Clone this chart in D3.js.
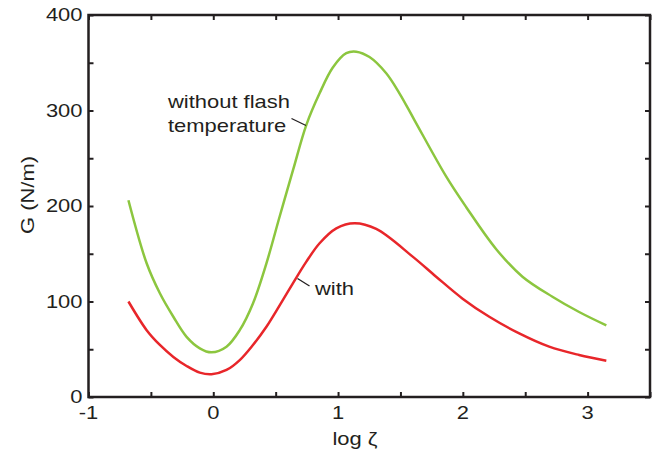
<!DOCTYPE html>
<html><head><meta charset="utf-8">
<script src="https://cdn.jsdelivr.net/npm/d3@7/dist/d3.min.js"></script>
<style>body{margin:0;background:#fff}svg{display:block}text{font-family:"Liberation Sans",Arial,sans-serif;fill:#231f20}</style>
</head><body><svg id="c" width="661" height="452"></svg>
<script>
const logZeta = [-0.68,-0.534,-0.428,-0.32,-0.214,-0.108,-0.014,0.106,0.212,0.318,0.426,0.532,0.64,0.746,0.852,0.958,1.066,1.146,1.252,1.386,1.492,1.612,1.866,2.026,2.266,2.478,2.718,2.932,3.15];
const gWithout = [206,140,108.6,84,63,51,46.8,52.7,70,98,140,189,238,285,318,345,360,361.6,356,339,318,290,231,199,155,126,105,89,75];
const logZetaWith = [-0.68,-0.534,-0.428,-0.32,-0.214,-0.108,-0.014,0.106,0.212,0.318,0.426,0.532,0.638,0.746,0.852,0.986,1.132,1.306,1.598,1.786,1.998,2.212,2.452,2.692,2.932,3.15];
const gWith = [100,70,54.5,42,32.5,25.5,23.8,28.3,38.7,54.5,73.6,96,119,141.7,161,176.6,182,176,147,126,103,84,66.6,52.7,44,38];
const xTicks = [-1,0,1,2,3];
const yTicks = [0,100,200,300,400];
const xLabel = "log ζ", yLabel = "G (N/m)";

const svg = d3.select("#c");
const L=88.5,R=650,T=15,B=397;
const x = d3.scaleLinear().domain([-1,3.5]).range([L,R]);
const y = d3.scaleLinear().domain([0,400]).range([B,T]);
const ink="#231f20";
const fs=18, sx=1.22;

function txt(px,py,s,anchor,rot){
  return svg.append("text")
    .attr("transform",`translate(${px},${py})`+(rot?` rotate(${rot})`:"")+` scale(${sx},1)`)
    .attr("text-anchor",anchor||"start").attr("font-size",fs).text(s);
}

// ticks (inward, all sides)
const g = svg.append("g");
const xt = d3.range(-1,3.51,0.5), yt = d3.range(0,401,50);
g.append("g").attr("transform",`translate(0,${B})`).call(d3.axisBottom(x).tickValues(xt).tickSize(-5).tickFormat(""));
g.append("g").attr("transform",`translate(0,${T})`).call(d3.axisTop(x).tickValues(xt).tickSize(-5).tickFormat(""));
g.append("g").attr("transform",`translate(${L},0)`).call(d3.axisLeft(y).tickValues(yt).tickSize(-5).tickFormat(""));
g.append("g").attr("transform",`translate(${R},0)`).call(d3.axisRight(y).tickValues(yt).tickSize(-5).tickFormat(""));
g.selectAll(".domain").remove();
g.selectAll(".tick line").attr("stroke",ink).attr("stroke-width",2);
svg.append("rect").attr("x",L).attr("y",T).attr("width",R-L).attr("height",B-T).attr("fill","none").attr("stroke",ink).attr("stroke-width",2.5);

// tick labels
xTicks.forEach(d=>txt(x(d),B+22,d,"middle"));
yTicks.forEach(d=>txt(L-6,y(d)+6,d,"end"));
txt(355,445,xLabel,"middle");
txt(34,195,yLabel,"middle",-90);

const line = d3.line().x(d=>x(d[0])).y(d=>y(d[1])).curve(d3.curveCatmullRom.alpha(0.5));
svg.append("path").datum(d3.zip(logZeta,gWithout)).attr("d",line).attr("fill","none").attr("stroke","#8cc63f").attr("stroke-width",2.5);
svg.append("path").datum(d3.zip(logZetaWith,gWith)).attr("d",line).attr("fill","none").attr("stroke","#e8262a").attr("stroke-width",2.5);

// annotations
txt(168,108,"without flash");
txt(168,132,"temperature");
svg.append("line").attr("x1",291.5).attr("y1",118.5).attr("x2",306).attr("y2",125.5).attr("stroke",ink).attr("stroke-width",1.3);
txt(315,295,"with");
svg.append("line").attr("x1",297.5).attr("y1",278.5).attr("x2",309.5).attr("y2",286).attr("stroke",ink).attr("stroke-width",1.3);
</script></body></html>
